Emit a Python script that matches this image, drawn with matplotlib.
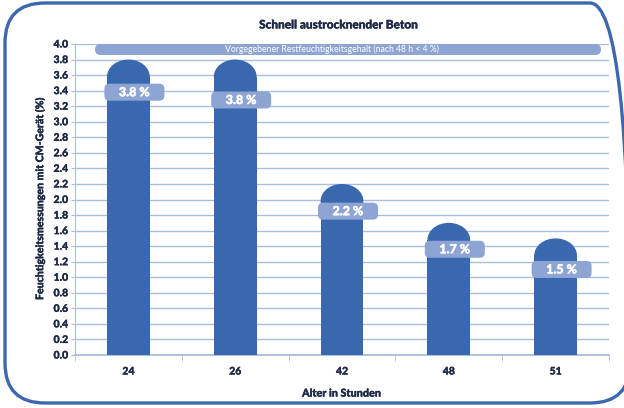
import matplotlib
matplotlib.use("Agg")
import matplotlib.pyplot as plt
import matplotlib.patheffects as pe
from matplotlib.patches import FancyBboxPatch, Ellipse
import numpy as np

# Data
categories = ["24", "26", "42", "48", "51"]
values = [3.8, 3.8, 2.2, 1.7, 1.5]
value_labels = ["3.8 %", "3.8 %", "2.2 %", "1.7 %", "1.5 %"]
label_drop = [0.42, 0.52, 0.35, 0.34, 0.40]   # label centre below bar top
title = "Schnell austrocknender Beton"
ylabel = "Feuchtigkeitsmessungen mit CM-Gerät (%)"
xlabel = "Alter in Stunden"
banner_text = "Vorgegebener Restfeuchtigkeitsgehalt (nach 48 h < 4 %)"
yticks = np.round(np.arange(0, 4.01, 0.2), 1)

plt.rcParams['font.family'] = ['Lato', 'DejaVu Sans']
BOLD = 900

W, H = 624, 408
fig = plt.figure(figsize=(W / 100, H / 100), dpi=100)
ax = fig.add_axes([75 / W, 1 - 355 / H, (609 - 75) / W, (355 - 44) / H])

bar_color = "#3a68ae"
light = "#8ea5d3"
grid_c = "#a9bde2"
text_c = "#1e2a48"

def heavy(color, w=0.22):
    return [pe.withStroke(linewidth=w, foreground=color)]

x = np.arange(len(categories))
ax.set_xlim(-0.5, len(categories) - 0.5)
ax.set_ylim(0, 4.0)

pxx = (609 - 75) / len(categories)   # px per x unit
pxy = (355 - 44) / 4.0               # px per y unit
aspect = pxx / pxy

bw = 0.40
cap_h = 17 / pxy
ax.bar(x, [v - cap_h for v in values], width=bw, color=bar_color, zorder=3)
for xi, v in zip(x, values):
    ax.add_patch(Ellipse((xi, v - cap_h), bw, 2 * cap_h, color=bar_color, zorder=3, lw=0))

# value labels
lw_ = 60 / pxx
lh_ = 17 / pxy
for xi, v, lab, d in zip(x, values, value_labels, label_drop):
    cx = xi + 6 / pxx
    cy = v - d
    ax.add_patch(FancyBboxPatch((cx - lw_ / 2, cy - lh_ / 2), lw_, lh_,
                                boxstyle="round,pad=0,rounding_size=%f" % (5 / pxx),
                                mutation_aspect=aspect, fc=light, ec="none", zorder=4))
    ax.text(cx, cy, lab, ha="center", va="center", color="white",
            fontsize=9, fontweight=BOLD, zorder=5, path_effects=heavy("white", 0.3))

# banner
bx0 = -0.5 + 20 / pxx
bx1 = -0.5 + 526 / pxx
bh = 11 / pxy
ax.add_patch(FancyBboxPatch((bx0, 4.0 - bh), bx1 - bx0, bh,
                            boxstyle="round,pad=0,rounding_size=%f" % (5.5 / pxx),
                            mutation_aspect=aspect, fc=light, ec="none", zorder=4,
                            clip_on=False))
ax.text(-0.5 + (332 - 75) / pxx, 4.0 - bh / 2, banner_text, ha="center", va="center",
        color="white", fontsize=6.2, zorder=5)

# grid / axes
ax.set_yticks(yticks)
ax.set_yticklabels([f"{t:.1f}" for t in yticks])
ax.yaxis.grid(True, color=grid_c, lw=1.0, zorder=0)
ax.set_axisbelow(True)
ax.set_xticks(x)
ax.set_xticklabels(categories)
ax.set_xticks(np.arange(-0.5, len(categories)), minor=True)
ax.tick_params(axis="x", which="major", length=0, pad=9)
ax.tick_params(axis="x", which="minor", length=4, color=grid_c, direction="out")
ax.tick_params(axis="y", length=3, color=grid_c, pad=2)
for lab in ax.get_xticklabels() + ax.get_yticklabels():
    lab.set_fontweight(BOLD)
    lab.set_fontsize(7.5)
    lab.set_color(text_c)
    lab.set_path_effects(heavy(text_c))
for s in ["top", "right"]:
    ax.spines[s].set_visible(False)
ax.spines["left"].set_color(grid_c)
ax.spines["bottom"].set_color(grid_c)
ax.spines["bottom"].set_linewidth(1.3)

ax.set_xlabel(xlabel, fontsize=7.8, fontweight=BOLD, color=text_c, labelpad=8,
              path_effects=heavy(text_c))
ax.set_ylabel(ylabel, fontsize=7.6, fontweight=BOLD, color=text_c, labelpad=6,
              path_effects=heavy(text_c))
fig.text(338 / W, 1 - 25 / H, title, ha="center", va="center",
         fontsize=8.5, fontweight=BOLD, color=text_c, path_effects=heavy(text_c))

# outer frame
frame = FancyBboxPatch((5 / W, 5 / H), (630 - 5) / W, (405 - 5) / H,
                       boxstyle="round,pad=0,rounding_size=%f" % (40 / W),
                       mutation_aspect=W / H, transform=fig.transFigure,
                       fc="none", ec="#3d68af", lw=2.4, clip_on=False)
fig.patches.append(frame)

fig.savefig("out.png", dpi=100)
